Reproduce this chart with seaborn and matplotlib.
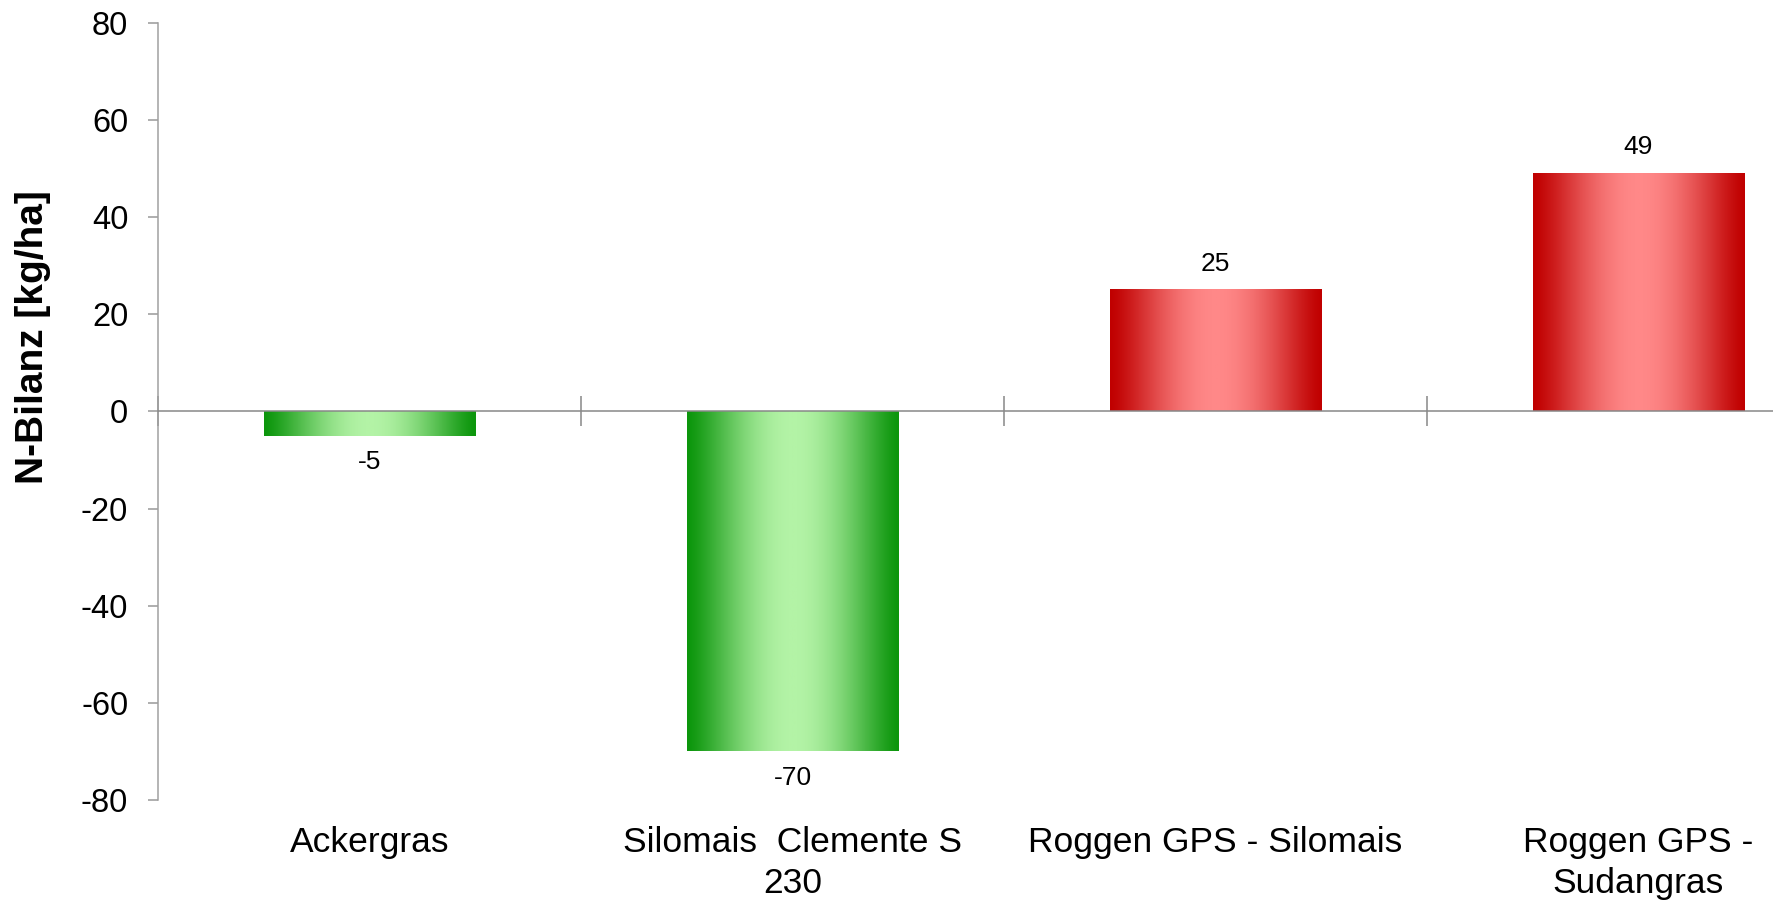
import numpy as np
import pandas as pd
import matplotlib
matplotlib.use("Agg")
import matplotlib.pyplot as plt
import matplotlib.transforms as mtransforms
from matplotlib.colors import LinearSegmentedColormap
import seaborn as sns

# Data
categories = ["Ackergras", "Silomais  Clemente S\n230", "Roggen GPS - Silomais", "Roggen GPS -\nSudangras"]
n_balance = [-5, -70, 25, 49]
y_ticks = [-80, -60, -40, -20, 0, 20, 40, 60, 80]

sns.set_style("white")
plt.rcParams["font.family"] = ["Liberation Sans", "DejaVu Sans"]
plt.rcParams["text.color"] = "black"
plt.rcParams["xtick.color"] = "black"
plt.rcParams["ytick.color"] = "black"

df = pd.DataFrame({"Kultur": categories, "N": n_balance})

W, H, DPI = 1773, 906, 100
fig = plt.figure(figsize=(W / DPI, H / DPI), dpi=DPI)
ax = fig.add_axes([158 / W, 1 - 800 / H, 1 - 158 / W, (800 - 23) / H])

sns.barplot(data=df, x="Kultur", y="N", ax=ax, width=0.5, color="white",
            edgecolor="none", errorbar=None, zorder=2)

# Horizontal shaded fills (dark edges, light centre)
green = LinearSegmentedColormap.from_list("g", ["#0c960c", "#b3f3a6"])
red = LinearSegmentedColormap.from_list("r", ["#c00000", "#ff8888"])
xs = np.linspace(0, 1, 256)
profile = np.sin(np.pi * xs) ** 1.3
for patch, val in zip(ax.patches, n_balance):
    x0, w = patch.get_x(), patch.get_width()
    y0, h = patch.get_y(), patch.get_height()
    cmap = green if val < 0 else red
    ax.imshow(profile[np.newaxis, :], cmap=cmap, vmin=0, vmax=1, aspect="auto",
              extent=(x0, x0 + w, min(y0, y0 + h), max(y0, y0 + h)),
              interpolation="bilinear", zorder=2)
    patch.set_facecolor("none")
    # value label
    off = 19 if val >= 0 else -19
    ax.annotate(f"{val}", xy=(x0 + w / 2, y0 + h), xytext=(0, off),
                textcoords="offset points", ha="center", va="center",
                fontsize=19, color="black")

n = len(categories)
ax.set_yticks(y_ticks)
ax.set_yticklabels([str(t) for t in y_ticks], fontsize=23.5)

# Category separators on the zero line
ax.set_xticks(np.arange(n + 1) - 0.5)
ax.set_xticklabels([])
ax.set_xlim(-0.5, -0.5 + (W - 158) / 423)
ax.set_ylim(-80, 80)
ax.tick_params(axis="x", direction="inout", length=22, width=1.1, color="#888888",
               bottom=True)
ax.tick_params(axis="y", direction="out", length=7.5, width=1.1, color="#999999", pad=14,
               left=True, labelcolor="black")

for s in ["top", "right"]:
    ax.spines[s].set_visible(False)
ax.spines["left"].set_color("#a0a0a0")
ax.spines["left"].set_linewidth(1.1)
ax.spines["bottom"].set_position(("data", 0))
ax.spines["bottom"].set_color("#888888")
ax.spines["bottom"].set_linewidth(1.1)
ax.set_xlabel("")
ax.set_ylabel("")

# Category names below the plot area
trans = mtransforms.blended_transform_factory(ax.transData, ax.transAxes)
for i, lab in enumerate(categories):
    ax.annotate(lab, xy=(i, 0), xycoords=trans, xytext=(0, -19),
                textcoords="offset points", ha="center", va="top",
                fontsize=25.5, linespacing=1.3, annotation_clip=False,
                color="black")

fig.text(33 / W, 1 - 337 / H, "N-Bilanz [kg/ha]", rotation=90, ha="center",
         va="center", fontsize=28, fontweight="bold", color="black")

fig.savefig("out.png", dpi=DPI)
